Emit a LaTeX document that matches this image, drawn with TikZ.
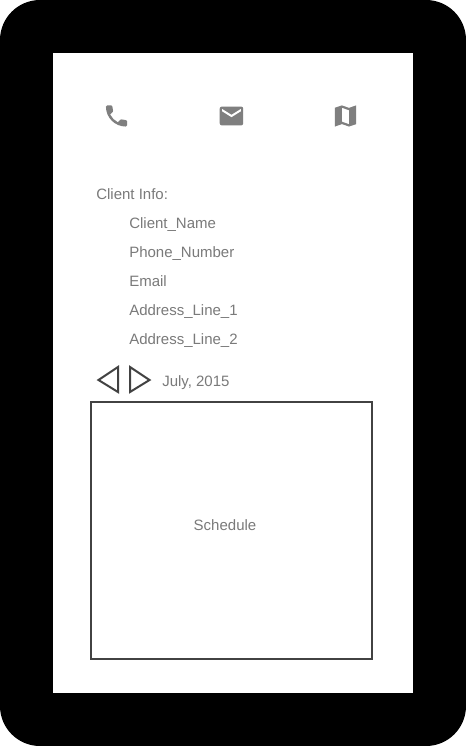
\documentclass[tikz,border=0pt]{standalone}
\usepackage{fontspec}
\setmainfont{Liberation Sans}
\usepackage{xcolor}
\definecolor{icongray}{HTML}{7F7F7F}
\definecolor{textgray}{HTML}{7A7A7A}
\definecolor{linegray}{HTML}{424242}
\tikzset{
    infotext/.style={anchor=base west, inner sep=0pt, text=textgray, font=\fontsize{11.25}{13}\selectfont},
    outline/.style={draw=linegray, line width=1.5pt}
}

\begin{document}
\begin{tikzpicture}[x=0.75pt,y=-0.75pt]
    \useasboundingbox (0,0) rectangle (466,746);
    % phone frame
    \fill[black, rounded corners=30pt] (0,0) rectangle (466,746);
    \fill[white] (53,53) rectangle (413,693);

    % call icon
    \begin{scope}[shift={(102.4,101.9)}, x=0.88pt, y=-0.88pt]
        \fill[icongray] (6.62,10.79) .. controls (8.06,13.62) and (10.38,15.94) .. (13.21,17.38)
            -- (15.41,15.18) .. controls (15.68,14.91) and (16.08,14.82) .. (16.43,14.94)
            .. controls (17.55,15.31) and (18.76,15.51) .. (20,15.51)
            .. controls (20.55,15.51) and (21,15.96) .. (21,16.51) -- (21,20)
            .. controls (21,20.55) and (20.55,21) .. (20,21)
            .. controls (10.61,21) and (3,13.39) .. (3,4)
            .. controls (3,3.45) and (3.45,3) .. (4,3) -- (7.5,3)
            .. controls (8.05,3) and (8.5,3.45) .. (8.5,4)
            .. controls (8.5,5.25) and (8.7,6.45) .. (9.07,7.57)
            .. controls (9.18,7.92) and (9.1,8.31) .. (8.82,8.59) -- cycle;
    \end{scope}

    % mail icon
    \begin{scope}[shift={(217.4,101.9)}, x=0.88pt, y=-0.88pt]
        \fill[icongray, rounded corners=1.5pt] (2,4) rectangle (22,20);
        \fill[white] (20,8) -- (12,13) -- (4,8) -- (4,6) -- (12,11) -- (20,6) -- cycle;
    \end{scope}

    % map icon
    \begin{scope}[shift={(331.4,101.9)}, x=0.88pt, y=-0.88pt]
        \fill[icongray, even odd rule] (21,3) -- (15,5.1) -- (9,3) -- (3,5) -- (3,21) -- (9,18.9) -- (15,21) -- (21,19) -- cycle
            (15,19) -- (9,16.89) -- (9,5) -- (15,7.11) -- cycle;
    \end{scope}

    \node[infotext] (clientinfo) at (96,199) {Client Info:};
    \node[infotext] (clientname) at (129,228) {Client\_Name};
    \node[infotext] (phonenumber) at (129,257) {Phone\_Number};
    \node[infotext] (email) at (129,286) {Email};
    \node[infotext] (addressone) at (129,315) {Address\_Line\_1};
    \node[infotext] (addresstwo) at (129,344) {Address\_Line\_2};

    % month arrows
    \draw[outline] (118,367) -- (98.5,380) -- (118,392) -- cycle;
    \draw[outline] (130,367) -- (149.5,380) -- (130,392) -- cycle;
    \node[infotext] (month) at (162,386) {July, 2015};

    \draw[outline] (91,402) rectangle (372,659);
    \node[infotext, anchor=base] (schedule) at (225,530) {Schedule};
\end{tikzpicture}
\end{document}
